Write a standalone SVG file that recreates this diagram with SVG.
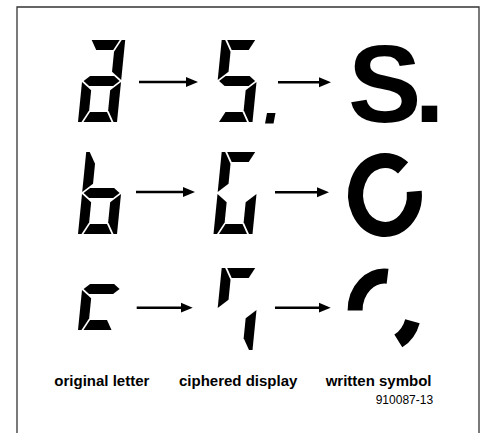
<svg xmlns="http://www.w3.org/2000/svg" width="484" height="433" viewBox="0 0 484 433">
<style>
.seg{fill:#000}
.arc{fill:none;stroke:#000;stroke-width:15;stroke-linecap:butt}
.conn{stroke:#000;stroke-width:2.5;fill:none}
.lbl{font-family:"Liberation Sans",Arial,sans-serif;font-weight:bold;font-size:15px;fill:#000}
.code{font-family:"Liberation Sans",Arial,sans-serif;font-size:12px;fill:#000}
.frame{fill:none;stroke:#333;stroke-width:1.3}
</style>
<defs>
<marker id="ah" markerUnits="userSpaceOnUse" markerWidth="13" markerHeight="11" refX="2" refY="5" orient="auto" viewBox="0 0 13 10">
<path d="M0,0 L12,5 L0,10 Z" fill="#000"/>
</marker>
<path id="sa" d="M5.5,0 H33.5 L28,10 H11 Z"/>
<path id="sb" d="M35.5,0 H39 V40 L29,31.7 V11.8 Z"/>
<path id="sc" d="M29,50.3 L39,42 V82 H35.5 L29,70.2 Z"/>
<path id="sd" d="M5.5,82 H33.5 L28,72 H11 Z"/>
<path id="se" d="M10,50.3 L0,42 V82 H3.5 L10,70.2 Z"/>
<path id="sf" d="M0,0 H3.5 L10,11.8 V31.7 L0,40 Z"/>
<path id="sg" d="M1.5,41 L7.5,36 H31.5 L37.5,41 L31.5,46 H7.5 Z"/>
</defs>
<path class="frame" d="M17,440 V7 H479 V440"/>
<g id="orig-a" class="seg" transform="matrix(1 0 -0.1 1 86.2 40)">
<use href="#sa"/><use href="#sb"/><use href="#sg"/><use href="#se"/><use href="#sc"/><use href="#sd"/>
</g>
<g id="ciph-5" class="seg">
<g transform="matrix(1 0 -0.1 1 221.7 40)">
<use href="#sa"/><use href="#sf"/><use href="#sg"/><use href="#sc"/><use href="#sd"/>
</g>
<polygon points="267,113 275.5,113 273.5,123.5 265,123.5"/>
</g>
<g id="sym-s">
<text x="348" y="122" font-family="Liberation Sans,Arial,sans-serif" font-weight="bold" font-size="110" letter-spacing="-7" fill="#000">S.</text>
</g>
<g id="orig-b" class="seg" transform="matrix(1 0 -0.1 1 86.2 152)">
<use href="#sf"/><use href="#se"/><use href="#sg"/><use href="#sc"/><use href="#sd"/>
</g>
<g id="ciph-g" class="seg" transform="matrix(1 0 -0.1 1 221.7 152)">
<use href="#sa"/><use href="#sf"/><use href="#se"/><use href="#sc"/><use href="#sd"/>
</g>
<g id="sym-o">
<path class="arc" d="M414.24,191.41 A29.4,34.4 0 1 1 403.10,167.89"/>
</g>
<g id="orig-c" class="seg" transform="matrix(1 0 -0.1 1 86.2 248)">
<use href="#sg"/><use href="#se"/><use href="#sd"/>
</g>
<g id="ciph-r" class="seg" transform="matrix(1 0 -0.1 1 221.7 268)">
<use href="#sa"/><use href="#sf"/><use href="#sc"/>
</g>
<g id="sym-arcs">
<path class="arc" d="M355.1,310.5 A29.4,34.4 0 0 1 387.57,276.29"/>
<path class="arc" d="M412.46,321.13 A29.4,34.4 0 0 1 398.3,340.9"/>
</g>
<g id="connectors">
<line class="conn" x1="139" y1="82" x2="188" y2="82" marker-end="url(#ah)"/>
<line class="conn" x1="278" y1="82.3" x2="321" y2="82.3" marker-end="url(#ah)"/>
<line class="conn" x1="136" y1="192" x2="185" y2="192" marker-end="url(#ah)"/>
<line class="conn" x1="275" y1="192.3" x2="319" y2="192.3" marker-end="url(#ah)"/>
<line class="conn" x1="136.7" y1="307.7" x2="182.7" y2="307.7" marker-end="url(#ah)"/>
<line class="conn" x1="275" y1="307.7" x2="320.7" y2="307.7" marker-end="url(#ah)"/>
</g>
<text class="lbl" x="54.3" y="386">original letter</text>
<text class="lbl" x="179" y="386">ciphered display</text>
<text class="lbl" x="325.7" y="386">written symbol</text>
<text class="code" x="375.7" y="404.3">910087-13</text>
</svg>
